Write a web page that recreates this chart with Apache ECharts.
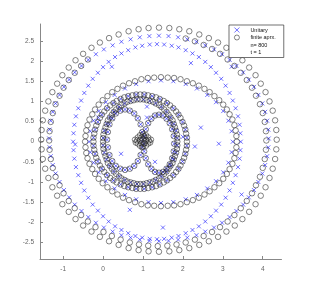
<!DOCTYPE html>
<html><head><meta charset="utf-8">
<script src="https://cdn.jsdelivr.net/npm/echarts@6/dist/echarts.min.js"></script>
<style>html,body{margin:0;padding:0;background:#fff}#c{width:311px;height:294px}</style>
</head><body><div id="c"></div>
<script>
const xTicks = [-1, 0, 1, 2, 3, 4];
const yTicks = [-2.5, -2, -1.5, -1, -0.5, 0, 0.5, 1, 1.5, 2, 2.5];
const legendNames = ['Unitary', 'finite aprx.', 'n= 800', 't = 1'];

// finite approximation (black circles)
const finiteOuterA = [[4.35,.05],[4.34,.29],[4.31,.53],[4.25,.77],[4.17,1.0],[4.07,1.23],[3.95,1.44],[3.82,1.65],[3.66,1.84],[3.49,2.02],[3.3,2.18],[3.09,2.33],[2.88,2.46],[2.65,2.57],[2.41,2.66],[2.16,2.74],[1.91,2.79],[1.66,2.82],[1.4,2.83],
[1.14,2.82],[.89,2.79],[.64,2.74],[.39,2.66],[.15,2.57],[-.08,2.46],[-.29,2.33],[-.5,2.18],[-.69,2.02],[-.86,1.84],[-1.02,1.65],[-1.15,1.44],[-1.27,1.23],[-1.37,1.0],[-1.45,.77],[-1.51,.53],[-1.54,.29],[-1.55,.05],
[-1.54,-.19],[-1.51,-.43],[-1.45,-.67],[-1.37,-.9],[-1.27,-1.13],[-1.15,-1.34],[-1.02,-1.55],[-.86,-1.74],[-.69,-1.92],[-.5,-2.08],[-.29,-2.23],[-.08,-2.36],[.15,-2.47],[.39,-2.56],[.64,-2.64],[.89,-2.69],[1.14,-2.72],[1.4,-2.73],
[1.66,-2.72],[1.91,-2.69],[2.16,-2.64],[2.41,-2.56],[2.65,-2.47],[2.88,-2.36],[3.09,-2.23],[3.3,-2.08],[3.49,-1.92],[3.66,-1.74],[3.82,-1.55],[3.95,-1.34],[4.07,-1.13],[4.17,-.9],[4.25,-.67],[4.31,-.43],[4.34,-.19]];
const finiteOuterB = [[4.09,.03],[4.08,.26],[4.05,.49],[4.0,.71],[3.93,.93],[3.83,1.14],[3.73,1.34],[3.6,1.53],[3.45,1.71],[3.29,1.88],[3.12,2.04],[2.93,2.18],[2.73,2.30],[2.52,2.40],[2.30,2.49],[2.07,2.56],
[-.38,2.04],[-.55,1.88],[-.71,1.71],[-.86,1.53],[-.99,1.34],[-1.09,1.14],[-1.19,.93],[-1.26,.71],[-1.31,.49],[-1.34,.26],[-1.35,.03],
[-1.34,-.2],[-1.31,-.43],[-1.26,-.65],[-1.19,-.87],[-1.09,-1.08],[-.99,-1.28],[-.86,-1.47],[-.71,-1.65],[-.55,-1.82],[-.38,-1.98],[-.19,-2.12],[.01,-2.24],[.22,-2.34],[.44,-2.43],[.67,-2.50],[.90,-2.55],[1.13,-2.58],[1.37,-2.59],
[1.61,-2.58],[1.84,-2.55],[2.07,-2.50],[2.30,-2.43],[2.52,-2.34],[2.73,-2.24],[2.93,-2.12],[3.12,-1.98],[3.29,-1.82],[3.45,-1.65],[3.6,-1.47],[3.73,-1.28],[3.83,-1.08],[3.93,-.87],[4.0,-.65],[4.05,-.43],[4.08,-.2]];
const finiteMiddleD = [[3.35,0],[3.34,.14],[3.32,.28],[3.29,.41],[3.24,.55],[3.17,.68],[3.10,.80],[3.01,.92],[2.91,1.03],[2.79,1.13],[2.67,1.23],[2.54,1.31],[2.40,1.39],[2.25,1.45],[2.10,1.50],[1.94,1.55],[1.78,1.58],[1.62,1.59],[1.45,1.6],
[1.28,1.59],[1.12,1.58],[.96,1.55],[.80,1.50],[.65,1.45],[.50,1.39],[.36,1.31],[.23,1.23],[.11,1.13],[-.01,1.03],[-.11,.92],[-.20,.80],[-.27,.68],[-.34,.55],[-.39,.41],[-.42,.28],[-.44,.14],[-.45,0],
[-.44,-.14],[-.42,-.28],[-.39,-.41],[-.34,-.55],[-.27,-.68],[-.20,-.80],[-.11,-.92],[-.01,-1.03],[.11,-1.13],[.23,-1.23],[.36,-1.31],[.50,-1.39],[.65,-1.45],[.80,-1.50],[.96,-1.55],[1.12,-1.58],[1.28,-1.59],[1.45,-1.6],
[1.62,-1.59],[1.78,-1.58],[1.94,-1.55],[2.10,-1.50],[2.25,-1.45],[2.40,-1.39],[2.54,-1.31],[2.67,-1.23],[2.79,-1.13],[2.91,-1.03],[3.01,-.92],[3.10,-.80],[3.17,-.68],[3.24,-.55],[3.29,-.41],[3.32,-.28],[3.34,-.14]];
const finiteRingC2 = [[2.10,0],[2.08,.20],[2.03,.40],[1.94,.59],[1.83,.75],[1.68,.90],[1.52,1.01],[1.33,1.10],[1.13,1.15],[.93,1.17],
[.73,1.15],[.53,1.10],[.34,1.01],[.18,.90],[.03,.75],[-.08,.59],[-.17,.40],[-.22,.20],[-.24,0],
[-.22,-.20],[-.17,-.40],[-.08,-.59],[.03,-.75],[.18,-.90],[.34,-1.01],[.53,-1.10],[.73,-1.15],[.93,-1.17],
[1.13,-1.15],[1.33,-1.10],[1.52,-1.01],[1.68,-.90],[1.83,-.75],[1.94,-.59],[2.03,-.40],[2.08,-.20]];
const ringC2Mid = [[2.10,.10],[2.06,.30],[1.99,.49],[1.89,.67],[1.76,.83],[1.60,.96],[1.42,1.06],[1.23,1.13],[1.03,1.17],
[.83,1.17],[.63,1.13],[.44,1.06],[.26,.96],[.10,.83],[-.03,.67],[-.13,.49],[-.20,.30],[-.24,.10],
[-.24,-.10],[-.20,-.30],[-.13,-.49],[-.03,-.67],[.10,-.83],[.26,-.96],[.44,-1.06],[.63,-1.13],[.83,-1.17],
[1.03,-1.17],[1.23,-1.13],[1.42,-1.06],[1.60,-.96],[1.76,-.83],[1.89,-.67],[1.99,-.49],[2.06,-.30],[2.10,-.10]];
const finiteRingC = [[1.86,0],[1.85,.18],[1.80,.36],[1.74,.53],[1.64,.67],[1.53,.80],[1.40,.91],[1.25,.99],[1.09,1.03],[.93,1.05],
[.77,1.03],[.61,.99],[.46,.91],[.33,.80],[.22,.67],[.12,.53],[.06,.36],[.01,.18],[0,0],
[.01,-.18],[.06,-.36],[.12,-.53],[.22,-.67],[.33,-.80],[.46,-.91],[.61,-.99],[.77,-1.03],[.93,-1.05],
[1.09,-1.03],[1.25,-.99],[1.40,-.91],[1.53,-.80],[1.64,-.67],[1.74,-.53],[1.80,-.36],[1.85,-.18]];
const ringCMid = [[1.86,.09],[1.83,.27],[1.77,.44],[1.69,.60],[1.59,.74],[1.46,.86],[1.32,.95],[1.17,1.01],[1.01,1.05],
[.85,1.05],[.69,1.01],[.54,.95],[.40,.86],[.27,.74],[.17,.60],[.09,.44],[.03,.27],[0,.09],
[0,-.09],[.03,-.27],[.09,-.44],[.17,-.60],[.27,-.74],[.40,-.86],[.54,-.95],[.69,-1.01],[.85,-1.05],
[1.01,-1.05],[1.17,-1.01],[1.32,-.95],[1.46,-.86],[1.59,-.74],[1.69,-.60],[1.77,-.44],[1.83,-.27],[1.86,-.09]];
const lobeLeft = [[1.0,.05],[.98,.24],[.94,.43],[.87,.58],[.78,.70],[.67,.77],[.55,.80],[.43,.77],[.32,.70],[.23,.58],[.16,.43],[.12,.24],[.10,.05],[.12,-.14],[.16,-.33],[.23,-.48],[.32,-.60],[.43,-.67],[.55,-.70],[.67,-.67],[.78,-.60],[.87,-.48],[.94,-.33],[.98,-.14]];
const lobeRight = [[1.78,-.05],[1.77,.14],[1.73,.31],[1.67,.46],[1.59,.57],[1.50,.65],[1.4,.67],[1.30,.65],[1.21,.57],[1.13,.46],[1.07,.31],[1.03,.14],[1.02,-.05],[1.03,-.24],[1.07,-.41],[1.13,-.56],[1.21,-.67],[1.30,-.75],[1.4,-.77],[1.50,-.75],[1.59,-.67],[1.67,-.56],[1.73,-.41],[1.77,-.24]];
const knot = [[1.15,.03],[1.13,.105],[1.075,.16],[1.0,.18],[.925,.16],[.87,.105],[.85,.03],[.87,-.045],[.925,-.1],[1.0,-.12],[1.075,-.1],[1.13,-.045],
[1.08,.03],[1.04,.1],[.96,.1],[.92,.03],[.96,-.04],[1.04,-.04],[1.2,.05],[1.18,-.02],[.8,.05],[.82,-.02]];

// unitary (blue crosses)
const unitaryU1 = [[4.15,.08],[4.14,.30],[4.11,.52],[4.06,.74],[3.99,.95],[3.89,1.16],[3.78,1.36],[3.65,1.54],[3.51,1.72],[3.34,1.88],[3.17,2.03],[2.98,2.17],[2.78,2.29],[2.56,2.39],[2.34,2.48],[2.11,2.54],[1.88,2.59],[1.64,2.62],[1.4,2.63],
[1.16,2.62],[.92,2.59],[.69,2.54],[.46,2.48],[.24,2.39],[.02,2.29],[-.18,2.17],[-.37,2.03],[-.54,1.88],[-.71,1.72],[-.85,1.54],[-.98,1.36],[-1.09,1.16],[-1.19,.95],[-1.26,.74],[-1.31,.52],[-1.34,.30],[-1.35,.08],
[-1.34,-.14],[-1.31,-.36],[-1.26,-.58],[-1.19,-.79],[-1.09,-1.0],[-.98,-1.2],[-.85,-1.38],[-.71,-1.56],[-.54,-1.72],[-.37,-1.87],[-.18,-2.01],[.02,-2.13],[.24,-2.23],[.46,-2.32],[.69,-2.38],[.92,-2.43],[1.16,-2.46],[1.4,-2.47],
[1.64,-2.46],[1.88,-2.43],[2.11,-2.38],[2.34,-2.32],[2.56,-2.23],[2.78,-2.13],[2.98,-2.01],[3.17,-1.87],[3.34,-1.72],[3.51,-1.56],[3.65,-1.38],[3.78,-1.2],[3.89,-1.0],[3.99,-.79],[4.06,-.58],[4.11,-.36],[4.14,-.14]];
const unitaryU2 = [[3.45,0],[3.44,.21],[3.42,.42],[3.38,.63],[3.32,.83],[3.25,1.02],[3.17,1.21],[3.07,1.39],[2.96,1.56],[2.83,1.71],[2.70,1.85],[2.56,1.98],[2.40,2.10],[2.24,2.19],[2.07,2.27],[1.89,2.34],[1.72,2.38],[1.53,2.41],[1.35,2.42],
[1.17,2.41],[.98,2.38],[.81,2.34],[.63,2.27],[.46,2.19],[.30,2.10],[.14,1.98],[0,1.85],[-.13,1.71],[-.26,1.56],[-.37,1.39],[-.47,1.21],[-.55,1.02],[-.62,.83],[-.68,.63],[-.72,.42],[-.74,.21],[-.75,0],
[-.74,-.21],[-.72,-.42],[-.68,-.63],[-.62,-.83],[-.55,-1.02],[-.47,-1.21],[-.37,-1.39],[-.26,-1.56],[-.13,-1.71],[0,-1.85],[.14,-1.98],[.30,-2.10],[.46,-2.19],[.63,-2.27],[.81,-2.34],[.98,-2.38],[1.17,-2.41],[1.35,-2.42],
[1.53,-2.41],[1.72,-2.38],[1.89,-2.34],[2.07,-2.27],[2.24,-2.19],[2.40,-2.10],[2.56,-1.98],[2.70,-1.85],[2.83,-1.71],[2.96,-1.56],[3.07,-1.39],[3.17,-1.21],[3.25,-1.02],[3.32,-.83],[3.38,-.63],[3.42,-.42],[3.44,-.21]];
const unitaryD = [[3.25,0],[3.22,.26],[3.14,.52],[3.01,.76],[2.83,.98],[2.61,1.16],[2.35,1.32],[2.07,1.43],[1.76,1.50],[1.45,1.52],
[1.14,1.50],[.83,1.43],[.55,1.32],[.29,1.16],[.07,.98],[-.11,.76],[-.24,.52],[-.32,.26],[-.35,0],
[-.32,-.26],[-.24,-.52],[-.11,-.76],[.07,-.98],[.29,-1.16],[.55,-1.32],[.83,-1.43],[1.14,-1.50],[1.45,-1.52],
[1.76,-1.50],[2.07,-1.43],[2.35,-1.32],[2.61,-1.16],[2.83,-.98],[3.01,-.76],[3.14,-.52],[3.22,-.26]];
const unitaryScatter = [[2.3,-.12],[1.3,-.5],[1.5,-2.13],[3.47,-1.31],[3.22,1.86],[.22,1.86],[1.1,.87],[.67,-1.69],[-.7,-.07],[-.12,.6],[1.1,.6],[2.0,.12],[2.45,.35],[2.9,-.05],[2.2,1.95],[.45,-.3]];

const xPath = 'path://M0,0L10,10M10,0L0,10';
const blueData = [].concat(unitaryU1, unitaryU2, unitaryD, ringC2Mid, ringCMid, lobeLeft, lobeRight, unitaryScatter);
const blackData = [].concat(finiteOuterA, finiteOuterB, finiteMiddleD, finiteRingC2, ringC2Mid, finiteRingC, ringCMid, lobeLeft, lobeRight, knot);

const chart = echarts.init(document.getElementById('c'), null, {renderer: 'canvas'});
const axisCommon = {
  type: 'value',
  axisLine: {show: true, onZero: false, lineStyle: {color: '#888', width: 1}},
  axisTick: {show: true, inside: true, length: 3, lineStyle: {color: '#888'}},
  axisLabel: {color: '#666', fontSize: 6.5, fontFamily: 'Liberation Sans, Arial, sans-serif'},
  splitLine: {show: false}
};
const blueStyle = {color: 'rgba(0,0,0,0)', borderColor: '#2020ff', borderWidth: 0.8};
const blackStyle = {color: 'rgba(0,0,0,0)', borderColor: '#222', borderWidth: 0.7};
chart.setOption({
  animation: false,
  backgroundColor: '#fff',
  grid: {left: 40, right: 29.5, top: 24, bottom: 35, containLabel: false},
  xAxis: Object.assign({}, axisCommon, {
    min: -1.58, max: 4.47,
    axisTick: Object.assign({}, axisCommon.axisTick, {customValues: xTicks}),
    axisLabel: Object.assign({}, axisCommon.axisLabel, {customValues: xTicks, margin: 7})
  }),
  yAxis: Object.assign({}, axisCommon, {
    min: -2.91, max: 2.92,
    axisTick: Object.assign({}, axisCommon.axisTick, {customValues: yTicks}),
    axisLabel: Object.assign({}, axisCommon.axisLabel, {customValues: yTicks, margin: 6})
  }),
  legend: {
    orient: 'vertical', left: 229, top: 25,
    data: [
      {name: legendNames[0], icon: xPath, itemStyle: blueStyle},
      {name: legendNames[1], icon: 'circle', itemStyle: blackStyle},
      {name: legendNames[2], icon: 'none'},
      {name: legendNames[3], icon: 'none'}
    ],
    itemWidth: 5, itemHeight: 5, itemGap: 1.5,
    padding: [2, 8, 2, 5],
    borderColor: '#333', borderWidth: 0.7, backgroundColor: '#fff',
    textStyle: {fontSize: 5.5, color: '#111', fontFamily: 'Liberation Sans, Arial, sans-serif', padding: [0, 0, 0, 6]}
  },
  series: [
    {name: legendNames[0], type: 'scatter', data: blueData, symbol: xPath, symbolSize: 4, itemStyle: blueStyle},
    {name: legendNames[1], type: 'scatter', data: blackData, symbol: 'circle', symbolSize: 5.5, itemStyle: blackStyle},
    {name: legendNames[2], type: 'scatter', data: []},
    {name: legendNames[3], type: 'scatter', data: []}
  ]
});
</script></body></html>
